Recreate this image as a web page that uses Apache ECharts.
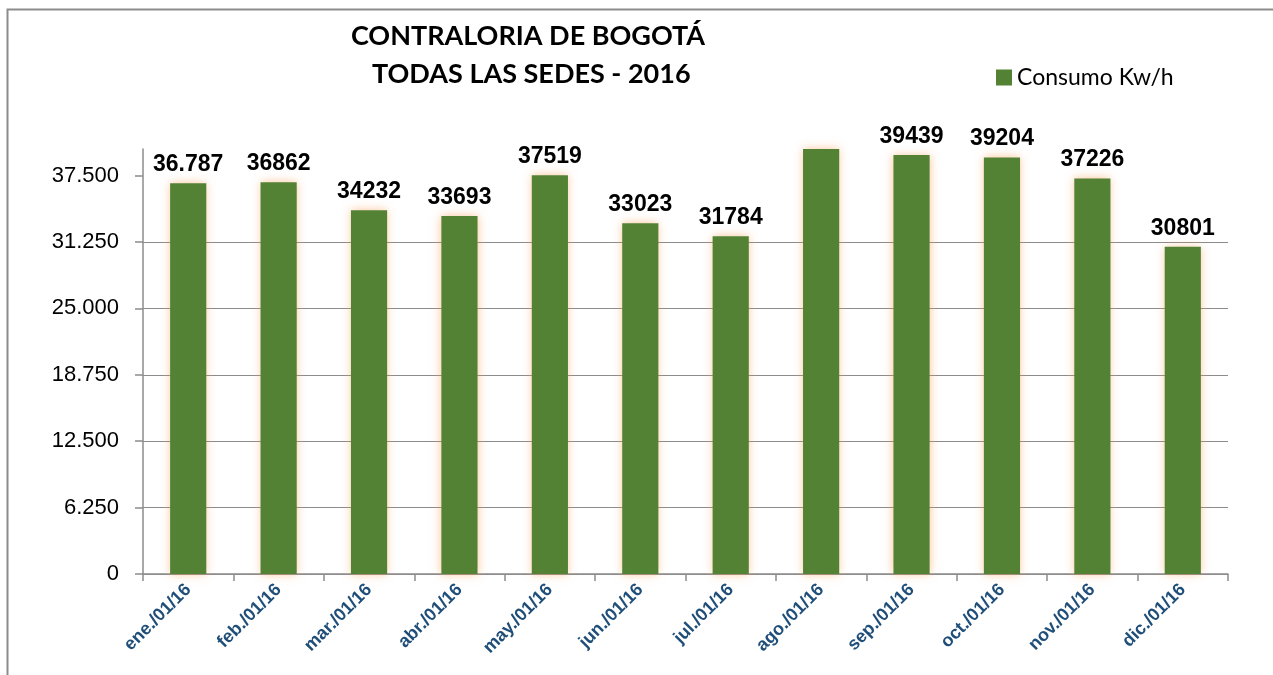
<!DOCTYPE html>
<html lang="es">
<head>
    <meta charset="UTF-8">
    <title>Contraloria de Bogotá - Consumo 2016</title>
    <script src="https://cdn.jsdelivr.net/npm/echarts@6/dist/echarts.min.js"></script>
    <style>
        html, body { margin: 0; padding: 0; background: #fff; }
    </style>
</head>
<body>
    <div id="main" style="width: 1273px; height: 675px;"></div>
    <script>
        // datos
        var meses = ['ene./01/16', 'feb./01/16', 'mar./01/16', 'abr./01/16', 'may./01/16', 'jun./01/16',
                     'jul./01/16', 'ago./01/16', 'sep./01/16', 'oct./01/16', 'nov./01/16', 'dic./01/16'];
        var consumo = [36787, 36862, 34232, 33693, 37519, 33023, 31784, 40000, 39439, 39204, 37226, 30801];
        var etiquetas = ['36.787', '36862', '34232', '33693', '37519', '33023', '31784', '', '39439', '39204', '37226', '30801'];
        var yTicks = [0, 6250, 12500, 18750, 25000, 31250, 37500];

        var myChart = echarts.init(document.getElementById('main'));

        function miles(v) {
            return String(v).replace(/\B(?=(\d{3})+(?!\d))/g, '.');
        }

        var option = {
            animation: false,
            backgroundColor: '#fff',
            title: {
                text: 'CONTRALORIA DE BOGOTÁ\n TODAS LAS SEDES - 2016',
                left: 523,
                top: 12,
                textAlign: 'center',
                textStyle: {
                    fontFamily: 'Lato',
                    fontWeight: 'bold',
                    fontSize: 27,
                    lineHeight: 38,
                    color: '#000'
                }
            },
            legend: {
                data: ['Consumo Kw/h'],
                left: 991,
                top: 61,
                itemWidth: 16,
                itemHeight: 16,
                itemGap: 6,
                icon: 'rect',
                textStyle: {
                    fontFamily: 'Lato',
                    fontSize: 23,
                    color: '#000'
                }
            },
            graphic: [{
                type: 'polyline',
                shape: { points: [[7.5, 700], [7.5, 9.5], [1290, 9.5]] },
                style: { stroke: '#8c8c8c', lineWidth: 2, fill: null },
                silent: true
            }],
            grid: {
                left: 143,
                right: 45,
                top: 149,
                bottom: 101
            },
            xAxis: {
                type: 'category',
                data: meses,
                axisLine: { lineStyle: { color: '#8c8c8c', width: 1.5 } },
                axisTick: { show: true, alignWithLabel: false, length: 7, lineStyle: { color: '#8c8c8c', width: 1.5 } },
                axisLabel: {
                    rotate: 45,
                    interval: 0,
                    margin: 13,
                    fontFamily: 'Liberation Sans',
                    fontWeight: 'bold',
                    fontSize: 18,
                    color: '#1f4e79'
                }
            },
            yAxis: {
                type: 'value',
                min: 0,
                max: 40000,
                interval: 6250,
                axisLine: { show: true, lineStyle: { color: '#8c8c8c', width: 1.5 } },
                axisTick: { show: true, length: 8, lineStyle: { color: '#8c8c8c', width: 1.5 }, customValues: yTicks },
                splitLine: { show: true, showMaxLine: false, lineStyle: { color: '#8c8c8c', width: 1.2 } },
                axisLabel: {
                    customValues: yTicks,
                    margin: 24,
                    fontFamily: 'Liberation Sans',
                    fontSize: 22,
                    color: '#000',
                    formatter: function (v) { return miles(v); }
                }
            },
            series: [{
                name: 'Consumo Kw/h',
                type: 'bar',
                data: consumo,
                barWidth: '40%',
                itemStyle: {
                    color: '#538234',
                    shadowColor: 'rgba(247, 150, 70, 0.55)',
                    shadowBlur: 9
                },
                label: {
                    show: true,
                    position: 'top',
                    distance: 7,
                    fontFamily: 'Liberation Sans',
                    fontWeight: 'bold',
                    fontSize: 23,
                    color: '#000',
                    formatter: function (p) { return etiquetas[p.dataIndex]; }
                }
            }]
        };
        myChart.setOption(option);
    </script>
</body>
</html>
